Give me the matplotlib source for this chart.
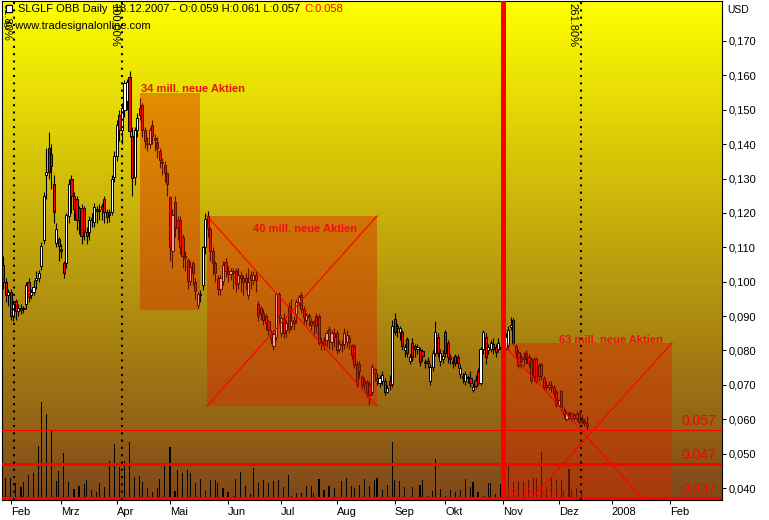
import numpy as np
import pandas as pd
import matplotlib
matplotlib.use("Agg")
import matplotlib.pyplot as plt
from matplotlib.patches import Rectangle
from matplotlib.ticker import FixedLocator, FuncFormatter

plt.rcParams['font.family'] = ['Liberation Sans', 'DejaVu Sans']

# daily candles in 1/1000 USD, one value per trading day 29.01.2007 .. 18.12.2007
opens = [
    105, 100, 96, 97, 90, 94.5, 91.5, 92.5, 92, 93.4,
    100, 96, 97, 100.5, 101, 104.7, 112, 131, 139, 137,
    128.5, 111.3, 112.4, 109.4, 105.4, 105.4, 119, 130, 125, 124,
    121.5, 121.5, 121.5, 114.5, 114.5, 118.5, 117.4, 121, 120.8, 122,
    124, 120.3, 120.3, 120.3, 130.3, 136.5, 148.5, 144, 150, 152.5,
    159.5, 142.3, 130.3, 144, 150.5, 151.3, 144, 140.4, 140, 145.5,
    141.8, 140.5, 138, 134.6, 134, 131.5, 124.5, 109, 123.2, 118,
    118, 113, 107.6, 106.3, 100.2, 105.5, 100, 93.2, 96.5, 99,
    110, 119, 115.4, 109, 105.5, 101, 97.8, 100.2, 105.8, 103.1,
    102.3, 103.1, 103.1, 99.5, 102, 101, 101, 96, 102, 100.5,
    102, 93.4, 92.5, 91, 90, 88.5, 85.2, 81.2, 84, 96.3,
    85, 89.5, 86, 92.9, 87, 89, 90.5, 94, 96, 92.2,
    89, 90.2, 88.5, 88.5, 90, 90, 82.5, 83, 83, 86.2,
    82.5, 85, 85, 80.5, 82, 82, 82.5, 83.5, 81.5, 81.2,
    76.2, 76, 72.4, 71, 70.9, 70, 68, 74.5, 72, 70.5,
    71, 71, 68, 71, 70.3, 89.3, 87, 85.3, 85.3, 80,
    83.2, 77, 82.3, 81.3, 80.3, 80, 79.8, 76.3, 77, 71,
    75.3, 79.4, 84, 77, 77.5, 85.3, 82.3, 78, 77, 78.5,
    78, 73.3, 72.5, 71, 72.4, 72, 68.5, 71.5, 74, 70.5,
    80.3, 84, 80, 80.3, 82, 81, 80.3, 81, 81, 80.5,
    81.7, 86.8, 88.8, 81.2, 79.7, 78, 78, 79.4, 78, 77.4,
    77.4, 77.4, 75.5, 76, 72, 70, 69.5, 70, 69.5, 68,
    64.2, 68.1, 62.7, 60, 61.8, 61.8, 60.5, 61.5, 61.9, 60,
    59.5, 59,
]
closes = [
    100, 96, 97, 90, 93.5, 91.5, 92.5, 91.8, 92.5, 99,
    95.5, 97, 98.5, 101, 102.5, 110.3, 125, 132, 132, 133.5,
    120.3, 115.4, 110.4, 109.0, 102.5, 119.3, 128.5, 125, 121, 118,
    118, 113.3, 114.5, 113.3, 118, 118, 121.8, 120.5, 120.6, 121,
    120.3, 118.8, 119.5, 130, 136.5, 145.5, 144, 150.5, 157.7, 158,
    143.7, 130.2, 144, 147.5, 148.5, 144, 141, 139.9, 144, 142.5,
    141.3, 139, 135.3, 134.4, 131.5, 128.3, 110.2, 119.5, 116, 115.5,
    110, 107.5, 107, 100.2, 104.2, 102.5, 97.2, 96.3, 96, 110,
    118.3, 115.5, 109, 105.4, 102.5, 98, 101, 105, 103.1, 102.3,
    103, 102.5, 99.3, 102, 101, 100, 100, 100, 100.5, 102,
    100.5, 90, 90.5, 89, 88, 86, 83.2, 84.7, 96.3, 90,
    89.5, 85, 88, 86.2, 88.5, 88, 94, 95.5, 92.2, 89.8,
    90.2, 89.6, 87.5, 88, 87, 82.3, 82.1, 81.5, 85, 83,
    85, 84, 80, 82, 81.5, 85, 84.5, 82.5, 78.8, 75.9,
    70.3, 74, 70, 70.5, 67.7, 67, 75.3, 73.5, 71, 72,
    73, 68, 69, 70, 87, 85.3, 86.5, 86.5, 81.2, 81,
    79.4, 78, 78.2, 80.3, 81, 76.8, 78.3, 76.8, 76.5, 75.3,
    79.4, 85.3, 79.4, 79.4, 78.5, 79.4, 78, 77.5, 76.5, 76.5,
    76.5, 75, 72, 73.3, 72, 70.5, 69.5, 69.8, 70.5, 80.3,
    85.3, 78, 81, 82.3, 80.5, 79.5, 82.3, 80.5, 80, 84,
    86, 87.3, 82.3, 79.4, 75.9, 77, 77.5, 78.4, 76.5, 71.5,
    72.5, 71, 72.5, 72.5, 69.5, 69.5, 70, 69.5, 67.5, 64.2,
    65.5, 63.7, 61.4, 61.7, 61.2, 60.5, 61, 60.5, 59.2, 59.5,
    58.8, 58,
]
highs = [
    107.5, 101, 98, 98, 94, 95, 93.5, 93.5, 93, 100,
    101, 98, 100.5, 103, 103.5, 111.5, 126, 139, 143.4, 140,
    131, 117, 113, 111, 106, 120, 130, 131, 126, 125,
    122, 122.5, 122, 116, 119, 120, 123, 122, 122.5, 123,
    125, 121, 121, 131, 138, 147, 150, 152, 158.5, 159,
    161.3, 145, 145, 149, 153.4, 152, 145, 142, 145, 147,
    143, 142, 139, 136, 135, 132, 125, 121, 125, 119,
    119, 114, 109, 107, 106, 106, 101, 97, 97.5, 110.5,
    120, 120.5, 116, 110, 106, 102, 102, 106, 107, 104.5,
    104, 104, 104, 104, 103, 102, 102.5, 104, 103, 103,
    103, 94.5, 93, 92, 90.5, 89, 86, 86, 97, 97,
    90, 91, 89, 94, 95, 90, 95, 96, 97, 93,
    91, 91, 89.5, 89, 91, 90.5, 84, 84, 86, 87,
    86, 86.5, 86, 83, 83, 86.5, 86, 84.5, 82, 82,
    77, 77, 73, 72, 71.5, 71, 76, 75, 73.5, 73,
    74, 72, 70, 73, 89, 91, 88, 87, 86, 82,
    84, 79, 83.5, 82, 82, 81, 80.5, 77.5, 78, 76,
    80, 88.5, 85, 80.5, 80, 86, 83, 79, 78, 79,
    79, 76, 73.5, 74, 73, 74, 70.5, 73, 75, 81,
    86, 85, 82, 83, 83.5, 82, 83.5, 82, 82, 85,
    87, 89.7, 89.5, 82, 80.5, 79, 79.5, 80, 79, 78,
    78, 78, 76.5, 76.5, 72.5, 71, 71, 71, 70, 68.5,
    66, 68.5, 63.5, 62.5, 62.5, 62, 61.5, 62.5, 62, 61.5,
    60.5, 61,
]
lows = [
    98, 94, 93, 89, 88.5, 89, 90, 90.5, 91, 92,
    94, 95, 96, 98, 100, 103.5, 111, 124, 130, 127,
    117, 110, 106, 107, 101, 104, 117, 120, 118, 115,
    114, 111, 112, 111, 112, 116, 116, 117, 118, 118,
    117, 117, 117.5, 119.5, 129, 135, 141, 140, 148, 150,
    142, 125, 128, 142, 147, 142, 139, 138, 139, 140,
    138, 136, 133, 131, 129, 125, 106, 104, 113, 112,
    108, 104, 103, 98, 99, 99, 95, 92.5, 94, 97.5,
    108, 113, 106, 102, 100, 96, 96, 99, 101.5, 100,
    100.5, 98, 97, 98, 97, 96, 97.5, 95, 98, 99,
    97, 88.5, 89, 87.5, 86, 84.5, 82, 80, 83, 88,
    84, 83.5, 84, 85, 86, 86, 88, 93, 91, 88,
    87.5, 87, 86, 84, 85, 81.5, 80, 80, 81, 80.5,
    80, 81, 79, 79.5, 79.7, 80.5, 81, 80.5, 77.5, 75,
    69.5, 72, 69, 68.5, 66.5, 64.2, 67, 71, 70, 69.5,
    70, 67, 67.5, 68.5, 69.5, 84.5, 84, 83, 80, 78,
    78, 76, 77, 78, 79, 75.5, 77, 75, 75, 70,
    74, 78.5, 78, 75.5, 76.5, 78, 76.5, 76, 75, 75.5,
    75, 72, 70.5, 70, 70.5, 69.5, 68, 69, 70, 70,
    79, 76, 79, 79.5, 79, 78, 79.5, 79, 79, 80,
    80.5, 86, 81.5, 78, 75, 75, 75.5, 76, 75, 70.5,
    71, 70.5, 71, 71.5, 68.5, 68.5, 68.5, 68, 66.5, 63.5,
    63.5, 62.5, 60.5, 59.5, 60, 59.5, 59.8, 59.5, 58.5, 58.5,
    58, 57,
]
# volume, in pixel-height units of the volume pane
volume = [
    3, 22, 2, 22, 2, 17, 2, 13, 18, 2,
    25, 2, 27, 2, 54, 98, 3, 86, 3, 70,
    3, 19, 29, 2, 47, 2, 18, 2, 11, 2,
    14, 2, 16, 20, 2, 10, 2, 8, 17, 2,
    13, 2, 39, 3, 56, 2, 33, 3, 39, 3,
    58, 3, 23, 2, 24, 18, 2, 12, 2, 8,
    2, 12, 21, 2, 35, 3, 53, 2, 9, 30,
    2, 27, 2, 30, 27, 2, 17, 2, 21, 2,
    9, 2, 20, 2, 20, 17, 2, 12, 2, 8,
    2, 4, 21, 2, 28, 2, 14, 2, 6, 32,
    2, 17, 2, 20, 2, 17, 2, 19, 3, 20,
    2, 13, 2, 25, 4, 2, 7, 2, 7, 2,
    14, 2, 14, 7, 2, 21, 2, 10, 2, 14,
    2, 12, 2, 2, 19, 2, 22, 2, 14, 12,
    2, 15, 2, 21, 2, 14, 3, 20, 22, 2,
    10, 2, 15, 2, 58, 20, 2, 19, 2, 13,
    2, 2, 13, 2, 2, 15, 20, 2, 4, 2,
    9, 41, 2, 11, 2, 4, 2, 10, 2, 8,
    2, 10, 2, 21, 2, 13, 18, 2, 8, 2,
    4, 2, 17, 17, 2, 6, 2, 16, 2, 13,
    35, 2, 18, 2, 19, 2, 18, 2, 20, 2,
    22, 22, 2, 48, 2, 13, 2, 22, 2, 20,
    2, 20, 9, 2, 31, 11, 2, 12, 2, 7,
    2, 3,
]

first_day = "2007-01-29"
month_labels = ["Feb", "Mrz", "Apr", "Mai", "Jun", "Jul", "Aug", "Sep",
                "Okt", "Nov", "Dez", "2008", "Feb"]
y_ticks = [0.04, 0.05, 0.06, 0.07, 0.08, 0.09, 0.10, 0.11, 0.12, 0.13,
           0.14, 0.15, 0.16, 0.17]

levels = [0.057, 0.047, 0.037]
level_labels = ["0.057", "0.047", "0.037"]

fib_days = [4.25, 47.0, 228.7]
fib_labels = ["61.80%", "100.00%", "261.80%"]

# boxes: left day, right day, low price, high price
box_left = [54.15, 80.7, 197.5]
box_right = [77.9, 148.0, 264.8]
box_low = [0.0918, 0.0639, 0.0275]
box_high = [0.1549, 0.1191, 0.0822]
box_cross = [False, True, True]
box_texts = ["34 mill. neue Aktien", "40 mill. neue Aktien", "63 mill. neue Aktien"]
box_text_day = [54.6, 98.9, 220.1]
box_text_price = [0.1561, 0.1153, 0.0831]

marker_day = 197.7
marker_label = "02.11.2007"


def main():
    W, H = 769, 520
    fig = plt.figure(figsize=(W / 100, H / 100), dpi=100, facecolor="white")
    rect = [2 / W, (H - 500) / H, 720 / W, 499 / H]
    xlo, xhi = -0.5, 284.6
    ylo, yhi = 0.03654, 0.18160

    # bottom layer: gradient background and volume
    ax_vol = fig.add_axes(rect, zorder=0)
    t = np.linspace(0, 1, 256)[:, None]
    top_rgb = np.array([1.0, 1.0, 0.0])
    bot_rgb = np.array([0.50, 0.28, 0.10])
    grad = (top_rgb * (1 - t) + bot_rgb * t)[:, None, :]
    ax_vol.imshow(grad, extent=(xlo, xhi, 0, 499), aspect="auto", origin="upper", zorder=0)
    n = len(closes)
    ax_vol.bar(np.arange(n), volume, width=0.45, color="black", zorder=2)
    ax_vol.set_xlim(xlo, xhi)
    ax_vol.set_ylim(0, 499)
    ax_vol.axis("off")

    # price layer
    ax = fig.add_axes(rect, zorder=1)
    ax.patch.set_visible(False)
    o = np.array(opens) / 1000
    c = np.array(closes) / 1000
    h = np.array(highs) / 1000
    l = np.array(lows) / 1000
    idx = np.arange(n)
    body_lo = np.minimum(o, c)
    body_h = np.maximum(np.abs(c - o), 0.0003)
    colors = ["white" if cc >= oo else "red" for oo, cc in zip(o, c)]
    ax.vlines(idx, l, h, color="black", linewidth=0.8, zorder=2)
    ax.bar(idx, body_h, bottom=body_lo, width=0.85, color=colors,
           edgecolor="black", linewidth=0.7, zorder=3)

    # marker date text (below overlays)
    ax.text(marker_day + 1.8, 0.0389, marker_label, color="red", fontsize=8,
            va="center", ha="left", zorder=1)

    # boxes
    for x0, x1, y0, y1, cross, txt, tx, ty in zip(box_left, box_right, box_low, box_high,
                                                   box_cross, box_texts, box_text_day,
                                                   box_text_price):
        ax.add_patch(Rectangle((x0, y0), x1 - x0, y1 - y0, facecolor=(0.86, 0.14, 0.0),
                               alpha=0.43, linewidth=0, zorder=5))
        if cross:
            ax.plot([x0, x1], [y1, y0], color="red", linewidth=0.8, zorder=6)
            ax.plot([x0, x1], [y0, y1], color="red", linewidth=0.8, zorder=6)
        ax.text(tx, ty, txt, color="#ee1111", fontsize=8, fontweight="bold",
                va="center", ha="left", zorder=8)

    # horizontal levels
    for lv, lbl, lw in zip(levels, level_labels, [0.8, 2.2, 2.2]):
        ax.axhline(lv, color="red", linewidth=lw, zorder=7)
        ax.annotate(lbl, xy=(282.3, lv), xytext=(0, 1.5), textcoords="offset points",
                    ha="right", va="bottom", color="red", fontsize=10, zorder=8)

    ax.axvline(marker_day, color="red", linewidth=3.6, zorder=7)

    # fibonacci time lines
    for d, lbl in zip(fib_days, fib_labels):
        ax.axvline(d, color="black", linewidth=1.5, linestyle=(0, (1, 2.5)), zorder=7)
        ax.text(d - 3.2, 0.1810, lbl, rotation=-90, va="top", ha="center",
                fontsize=8, zorder=8)

    ax.set_xlim(xlo, xhi)
    ax.set_ylim(ylo, yhi)

    dates = pd.bdate_range(first_day, periods=300)
    starts = [i for i in range(1, len(dates)) if dates[i].month != dates[i - 1].month]
    starts = starts[:len(month_labels)]
    ax.xaxis.set_major_locator(FixedLocator(starts))
    ax.set_xticklabels(month_labels)
    for lbl in ax.get_xticklabels():
        lbl.set_horizontalalignment("left")

    ax.yaxis.tick_right()
    ax.yaxis.set_major_locator(FixedLocator(y_ticks))
    ax.yaxis.set_major_formatter(FuncFormatter(lambda v, p: f"{v:.3f}".replace(".", ",")))
    ax.tick_params(axis="y", length=3, width=0.75, pad=1.5, labelsize=8)
    ax.tick_params(axis="x", length=3, width=0.75, pad=2, labelsize=8)
    for sp in ax.spines.values():
        sp.set_linewidth(0.8)
        sp.set_color("black")

    # header
    hdr = fig.text(18 / W, 1 - 9 / H, "SLGLF OBB Daily  18.12.2007 - O:0.059 H:0.061 L:0.057",
                   fontsize=8, va="center", ha="left")
    ax.annotate("C:0.058", xy=(1, 0.5), xycoords=hdr, xytext=(3, 0),
                textcoords="offset points", va="center", ha="left", color="red",
                fontsize=8, annotation_clip=False)
    fig.text(4 / W, 1 - 26 / H, "\u00a9 www.tradesignalonline.com", fontsize=8,
             va="center", ha="left")
    fig.patches.append(Rectangle((6 / W, 1 - 12 / H), 6 / W, 7 / H, transform=fig.transFigure,
                                 facecolor="white", edgecolor="black", linewidth=0.8, zorder=9))
    fig.text(727 / W, 1 - 10 / H, "USD", fontsize=7.5, va="center", ha="left")

    fig.savefig("out.png", dpi=100)


if __name__ == "__main__":
    main()
